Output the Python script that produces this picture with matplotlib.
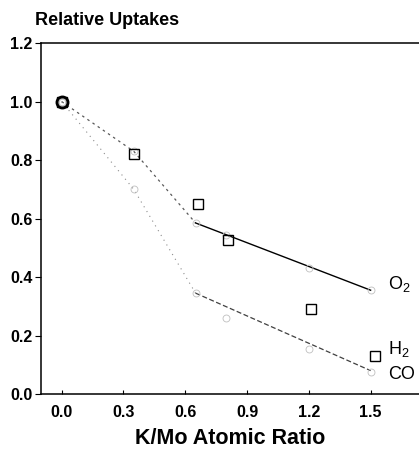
import matplotlib.pyplot as plt

plt.rcParams['font.family'] = ['Liberation Sans', 'DejaVu Sans']
plt.rcParams['mathtext.fontset'] = 'custom'
plt.rcParams['mathtext.rm'] = 'Liberation Sans'

# values
ratio_sq = [0.0, 0.35, 0.66, 0.81, 1.21, 1.52]
h2 = [1.0, 0.82, 0.65, 0.525, 0.29, 0.13]

ratio = [0.0, 0.35, 0.65, 0.80, 1.20, 1.50]
o2 = [1.0, 0.83, 0.585, 0.545, 0.43, 0.355]
co = [1.0, 0.70, 0.345, 0.26, 0.155, 0.075]

# straight fitted lines over the high-ratio part
fit_x = [0.65, 1.50]
o2_fit = [0.585, 0.355]
co_fit = [0.345, 0.08]

xticks = [0.0, 0.3, 0.6, 0.9, 1.2, 1.5]
yticks = [0.0, 0.2, 0.4, 0.6, 0.8, 1.0, 1.2]

fig = plt.figure(figsize=(4.19, 4.49), dpi=100)
ax = fig.add_axes([0.098, 0.1225, 0.902, 0.7815])

# low-ratio part drawn faint dotted
ax.plot(ratio[:3], o2[:3], color='0.35', lw=0.9, ls=(0, (2, 3)))
ax.plot(ratio[:3], co[:3], color='0.55', lw=0.8, ls=(0, (1, 4)))
ax.plot(fit_x, o2_fit, color='black', lw=1.0)
ax.plot(fit_x, co_fit, color='0.25', lw=0.9, ls=(0, (4, 2)))

ax.plot(ratio, o2, 'o', ms=5, mfc='none', mec='0.75', mew=0.6)
ax.plot(ratio, co, 'o', ms=5, mfc='none', mec='0.75', mew=0.6)
ax.plot(ratio_sq, h2, 's', ms=7, mfc='none', mec='black', mew=1.0)
ax.plot([0.0], [1.0], 'o', ms=8, mfc='none', mec='black', mew=2.0)

ax.text(1.585, o2_fit[-1] + 0.02, 'O$_2$', fontsize=13, va='center')
ax.text(1.585, 0.155, 'H$_2$', fontsize=13, va='center')
ax.text(1.585, 0.065, 'CO', fontsize=13, va='center')

ax.set_xlim(-0.10, 1.735)
ax.set_ylim(0.0, 1.2)
ax.set_xticks(xticks)
ax.set_xticklabels(['%.1f' % v for v in xticks], fontweight='bold', fontsize=11.5)
ax.set_yticks(yticks)
ax.set_yticklabels(['%.1f' % v for v in yticks], fontweight='bold', fontsize=11.5)
ax.tick_params(axis='y', direction='out', length=4, width=0.8, pad=2)
ax.tick_params(axis='x', direction='in', length=3, width=0.8, pad=8)
ax.spines['right'].set_visible(False)
for s in ['left', 'bottom', 'top']:
    ax.spines[s].set_linewidth(1.1)

ax.set_xlabel('K/Mo Atomic Ratio', fontsize=15.5, fontweight='semibold', labelpad=6)
fig.text(0.083, 0.955, 'Relative Uptakes', fontsize=13, fontweight='bold', va='center')

fig.savefig('out.png', dpi=100)
